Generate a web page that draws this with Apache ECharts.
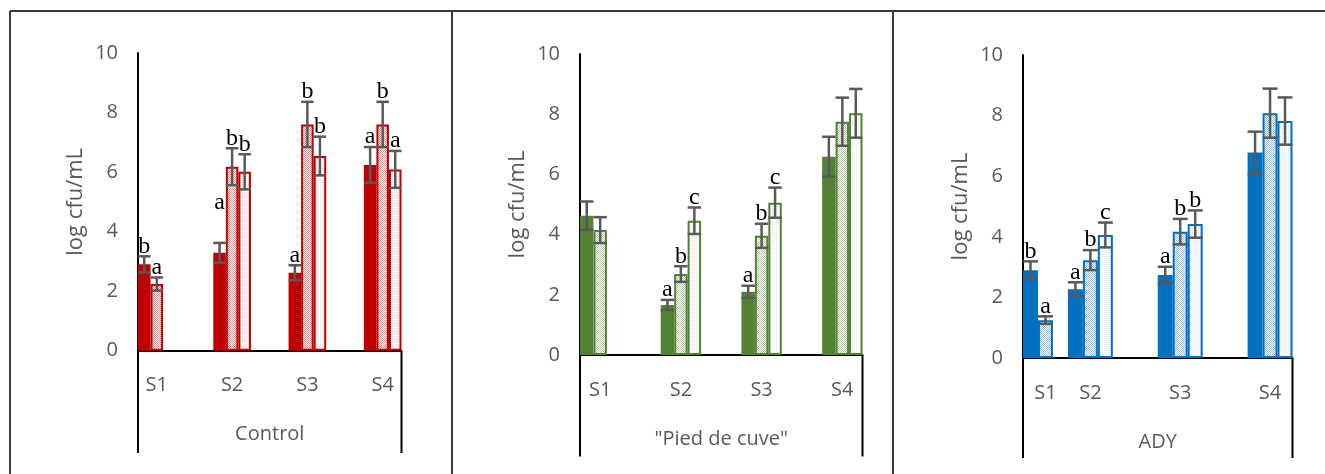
<!DOCTYPE html>
<html><head><meta charset="utf-8">
<script src="https://cdn.jsdelivr.net/npm/echarts@6/dist/echarts.min.js"></script>
<style>html,body{margin:0;padding:0;background:#fff}#c{width:1325px;height:474px}</style>
</head><body><div id="c"></div>
<script>
// ---------- data ----------
const stages = ['S1', 'S2', 'S3', 'S4'];
const slotsControl = ['S1', '', 'S2', '', 'S3', '', 'S4'];
const slotsPied = ['S1', '', 'S2', '', 'S3', '', 'S4'];
const slotsADY = ['S1', 'S2', '', 'S3', '', 'S4'];
const panelTitles = ['Control', '"Pied de cuve"', 'ADY'];
const yAxisName = 'log cfu/mL';

const control1 = [2.90, 3.29, 2.62, 6.24];
const control2 = [2.24, 6.18, 7.60, 7.60];
const control3 = [null, 6.01, 6.54, 6.09];
const controlErr1 = [0.27, 0.33, 0.25, 0.60];
const controlErr2 = [0.22, 0.62, 0.76, 0.76];
const controlErr3 = [null, 0.59, 0.65, 0.62];
const controlLet1 = ['b', 'a', 'a', 'a'];
const controlLet2 = ['a', 'b', 'b', 'b'];
const controlLet3 = ['', 'b', 'b', 'a'];

const pied1 = [4.63, 1.66, 2.10, 6.59];
const pied2 = [4.15, 2.69, 3.96, 7.75];
const pied3 = [null, 4.46, 5.06, 8.03];
const piedErr1 = [0.47, 0.17, 0.20, 0.66];
const piedErr2 = [0.43, 0.26, 0.40, 0.80];
const piedErr3 = [null, 0.44, 0.50, 0.81];
const piedLet1 = ['', 'a', 'a', ''];
const piedLet2 = ['', 'b', 'b', ''];
const piedLet3 = ['', 'c', 'c', ''];

const ady1 = [2.90, 2.27, 2.74, 6.78];
const ady2 = [1.25, 3.23, 4.17, 8.08];
const ady3 = [null, 4.06, 4.42, 7.82];
const adyErr1 = [0.29, 0.23, 0.27, 0.69];
const adyErr2 = [0.125, 0.33, 0.42, 0.81];
const adyErr3 = [null, 0.41, 0.45, 0.78];
const adyLet1 = ['b', 'a', 'a', ''];
const adyLet2 = ['a', 'b', 'b', ''];
const adyLet3 = ['', 'c', 'b', ''];

// ---------- styling / layout ----------
const GRAY = '#595959';
const FONT = '"Open Sans", "Noto Sans", sans-serif';
// extra lift (px) for individual significance letters: key = panel-series-stage
const letterLift = { '0-0-1': 30 };
const panels = [
  { slots: slotsControl, title: panelTitles[0], color: '#C00000', light: [224, 140, 140], pale: [246, 214, 214],
    values: [control1, control2, control3], errs: [controlErr1, controlErr2, controlErr3],
    letters: [controlLet1, controlLet2, controlLet3],
    lay: { left: 138, right: 401.5, top: 53, zero: 350.7, boxBottom: 453 } },
  { slots: slotsPied, title: panelTitles[1], color: '#548235', light: [180, 200, 165], pale: [228, 236, 222],
    values: [pied1, pied2, pied3], errs: [piedErr1, piedErr2, piedErr3],
    letters: [piedLet1, piedLet2, piedLet3],
    lay: { left: 580, right: 862.5, top: 54, zero: 355, boxBottom: 456.5 } },
  { slots: slotsADY, title: panelTitles[2], color: '#0070C0', light: [150, 190, 225], pale: [220, 234, 246],
    values: [ady1, ady2, ady3], errs: [adyErr1, adyErr2, adyErr3],
    letters: [adyLet1, adyLet2, adyLet3],
    lay: { left: 1023, right: 1292.5, top: 55, zero: 358, boxBottom: 458 } }
];

function rgb(a) { return 'rgb(' + a[0] + ',' + a[1] + ',' + a[2] + ')'; }
function makePattern(col, kind) {
  const c = document.createElement('canvas');
  c.width = 4; c.height = 4;
  const ctx = c.getContext('2d');
  ctx.fillStyle = '#ffffff';
  ctx.fillRect(0, 0, 4, 4);
  ctx.fillStyle = rgb(col);
  for (let x = 0; x < 4; x++) for (let y = 0; y < 4; y++) {
    if (kind === 'dense' && (x + y) % 2 === 0) ctx.fillRect(x, y, 1, 1);
    if (kind === 'light' && (x % 2 === 0) && (y % 2 === 0)) ctx.fillRect(x, y, 1, 1);
  }
  return { image: c, repeat: 'repeat' };
}

const grids = [], xAxes = [], yAxes = [], series = [], graphics = [];

// outer frame
const frameStyle = { stroke: '#3a3a3a', lineWidth: 2 };
[[10, 11, 1325, 11], [10, 11, 10, 474], [452, 11, 452, 474], [893, 11, 893, 474]].forEach(p => {
  graphics.push({ type: 'line', shape: { x1: p[0], y1: p[1], x2: p[2], y2: p[3] }, style: frameStyle, silent: true });
});

panels.forEach((p, pi) => {
  const L = p.lay;
  grids.push({ left: L.left, top: L.top, width: L.right - L.left, height: L.zero - L.top, containLabel: false });
  xAxes.push({
    type: 'category', gridIndex: pi, data: p.slots,
    axisLine: { lineStyle: { color: '#000', width: 2 } },
    axisTick: { show: false },
    axisLabel: { interval: 0, margin: 25, fontSize: 20, color: GRAY, fontFamily: FONT },
    name: p.title, nameLocation: 'middle', nameGap: 74,
    nameTextStyle: { fontSize: 20, color: GRAY, fontFamily: FONT }
  });
  yAxes.push({
    type: 'value', gridIndex: pi, min: 0, max: 10, interval: 2,
    axisLine: { show: true, lineStyle: { color: '#000', width: 2 } },
    axisTick: { show: false }, splitLine: { show: false },
    axisLabel: { fontSize: 20, color: GRAY, fontFamily: FONT, margin: 20 },
    name: yAxisName, nameLocation: 'middle', nameRotate: 90, nameGap: 51,
    nameTextStyle: { fontSize: 22, color: GRAY, fontFamily: FONT }
  });
  [L.left, L.right].forEach(x => {
    graphics.push({ type: 'line', shape: { x1: x, y1: L.zero, x2: x, y2: L.boxBottom }, style: { stroke: '#000', lineWidth: 2 }, silent: true });
  });

  const fills = [p.color, makePattern(p.light, 'dense'), makePattern(p.pale, 'light')];
  p.values.forEach((vals, si) => {
    const slotData = p.slots.map(s => s ? vals[stages.indexOf(s)] : null);
    series.push({
      type: 'bar', xAxisIndex: pi, yAxisIndex: pi, data: slotData,
      barGap: '0%', barCategoryGap: '0%',
      itemStyle: si === 0 ? { color: fills[0] } : { color: fills[si], borderColor: p.color, borderWidth: 2 },
      silent: true
    });
  });

  const ebData = [], ebLetters = [], ebLift = [];
  p.values.forEach((vals, si) => {
    vals.forEach((v, i) => {
      if (v == null) return;
      ebData.push([p.slots.indexOf(stages[i]), v, p.errs[si][i], si]);
      ebLetters.push(p.letters[si][i]);
      ebLift.push(letterLift[pi + '-' + si + '-' + i] || 0);
    });
  });
  series.push({
    type: 'custom', xAxisIndex: pi, yAxisIndex: pi, data: ebData, z: 10, silent: true,
    encode: { x: 0, y: 1 },
    renderItem: function (params, api) {
      const slot = api.value(0), v = api.value(1), e = api.value(2), s = api.value(3);
      const bw = api.size([1, 0])[0];
      const barW = bw / 3;
      const xc = api.coord([slot, v])[0] - bw / 2 + barW * (s + 0.5);
      const yT = api.coord([slot, v + e])[1];
      const yB = api.coord([slot, v - e])[1];
      const half = barW / 2;
      const st = { stroke: '#595959', lineWidth: 2.5 };
      const children = [
        { type: 'line', shape: { x1: xc, y1: yT, x2: xc, y2: yB }, style: st },
        { type: 'line', shape: { x1: xc - half, y1: yT, x2: xc + half, y2: yT }, style: st },
        { type: 'line', shape: { x1: xc - half, y1: yB, x2: xc + half, y2: yB }, style: st }
      ];
      const letter = ebLetters[params.dataIndex];
      if (letter) {
        children.push({ type: 'text', style: { text: letter, x: xc, y: yT + 2 - ebLift[params.dataIndex], align: 'center', verticalAlign: 'bottom',
          fontSize: 24, fontFamily: '"Liberation Serif", "DejaVu Serif", serif', fill: '#000' } });
      }
      return { type: 'group', children: children };
    }
  });
});

const chart = echarts.init(document.getElementById('c'), null, { renderer: 'canvas' });
chart.setOption({
  animation: false,
  backgroundColor: '#fff',
  grid: grids, xAxis: xAxes, yAxis: yAxes, series: series,
  graphic: graphics
});
</script>
</body></html>
